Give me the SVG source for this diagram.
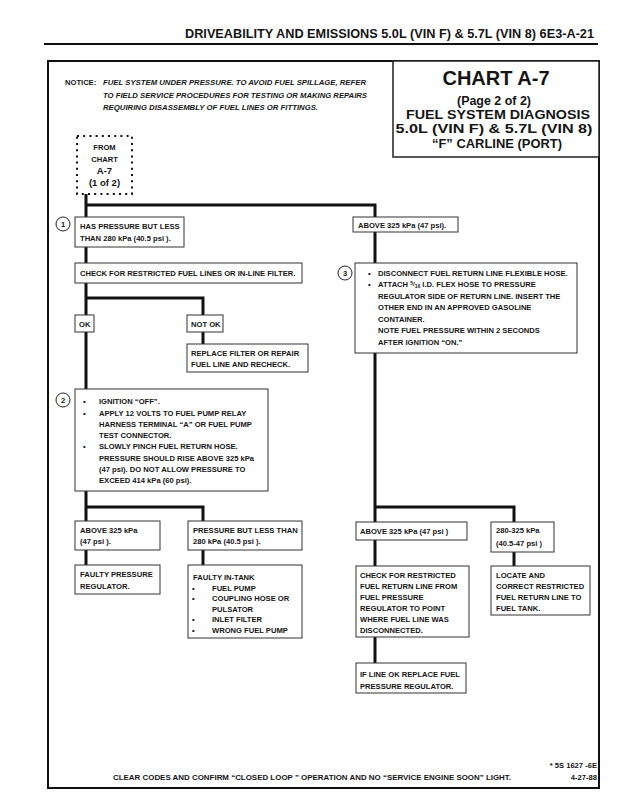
<svg xmlns="http://www.w3.org/2000/svg" width="626" height="797" viewBox="0 0 626 797" xml:space="preserve">
<style>
text{font-family:"Liberation Sans",Arial,sans-serif;font-weight:bold;fill:#151515}
.t{font-size:7.6px}
.it{font-size:7.6px;font-style:italic}
.box{fill:#fff;stroke:#333;stroke-width:1}
.con{fill:none;stroke:#111;stroke-width:3}
.circ{fill:#fff;stroke:#222;stroke-width:1}
.num{font-size:7.6px;text-anchor:middle}
.ttl{text-anchor:middle}
</style>
<rect width="626" height="797" fill="#fff"/>
<g id="header">
<text x="185" y="38" font-size="13" textLength="409" lengthAdjust="spacingAndGlyphs">DRIVEABILITY AND EMISSIONS  5.0L  (VIN F)  &amp;  5.7L  (VIN 8)  6E3-A-21</text>
<line x1="44" y1="44" x2="598" y2="44" stroke="#111" stroke-width="2"/>
</g>
<rect id="frame" x="48" y="61" width="551" height="727" fill="none" stroke="#111" stroke-width="2"/>
<g id="notice">
<text class="t" x="65" y="85">NOTICE:</text>
<text class="it" x="103" y="85" textLength="263" lengthAdjust="spacingAndGlyphs">FUEL SYSTEM UNDER PRESSURE.  TO AVOID FUEL SPILLAGE, REFER</text>
<text class="it" x="103" y="97.5" textLength="264" lengthAdjust="spacingAndGlyphs">TO FIELD SERVICE PROCEDURES FOR TESTING OR MAKING REPAIRS</text>
<text class="it" x="103" y="110" textLength="215" lengthAdjust="spacingAndGlyphs">REQUIRING DISASSEMBLY OF FUEL LINES OR FITTINGS.</text>
</g>
<g id="title">
<rect x="393" y="61" width="206" height="96" fill="#fff" stroke="#222" stroke-width="1.5"/>
<text class="ttl" x="496" y="85" font-size="20">CHART A-7</text>
<text class="ttl" x="494" y="105" font-size="12" textLength="74" lengthAdjust="spacingAndGlyphs">(Page 2 of 2)</text>
<text class="ttl" x="498" y="119" font-size="12.2" textLength="184" lengthAdjust="spacingAndGlyphs">FUEL SYSTEM DIAGNOSIS</text>
<text class="ttl" x="494" y="133" font-size="12.2" textLength="197" lengthAdjust="spacingAndGlyphs">5.0L  (VIN F)  &amp;  5.7L  (VIN 8)</text>
<text class="ttl" x="497" y="148" font-size="12.2" textLength="130" lengthAdjust="spacingAndGlyphs">“F”  CARLINE  (PORT)</text>
</g>
<g id="connectors">
<path class="con" d="M86,194 V565"/>
<path class="con" d="M86,205 H375 V663"/>
<path class="con" d="M86,298 H203 V344"/>
<path class="con" d="M86,507 H203 V565"/>
<path class="con" d="M375,507 H514 V566"/>
</g>
<g id="from-chart">
<rect x="77" y="136" width="55" height="58" fill="#fff" stroke="#111" stroke-width="2" stroke-dasharray="2,4.2"/>
<text class="ttl" x="104.5" y="150" font-size="7.6">FROM</text>
<text class="ttl" x="104.5" y="162" font-size="7.6">CHART</text>
<text class="ttl" x="104.5" y="174" font-size="9.5">A-7</text>
<text class="ttl" x="104.5" y="186" font-size="9.5">(1 of 2)</text>
</g>
<g id="step1">
<circle class="circ" cx="63" cy="224" r="7"/>
<text class="num" x="63" y="227">1</text>
<rect class="box" x="75" y="217" width="109" height="30"/>
<text class="t" x="80" y="229">HAS PRESSURE BUT LESS</text>
<text class="t" x="80" y="241">THAN 280 kPa (40.5 psi ).</text>
</g>
<g id="check-lines">
<rect class="box" x="75" y="263" width="227" height="20"/>
<text class="t" x="80" y="276">CHECK FOR RESTRICTED FUEL LINES OR IN-LINE FILTER.</text>
</g>
<g id="ok">
<rect class="box" x="75" y="315" width="19" height="17"/>
<text class="t" x="79" y="327">OK</text>
</g>
<g id="not-ok">
<rect class="box" x="187" y="315" width="36" height="17"/>
<text class="t" x="191" y="327">NOT OK</text>
</g>
<g id="replace-filter">
<rect class="box" x="187" y="344" width="121" height="28"/>
<text class="t" x="191" y="356">REPLACE FILTER  OR REPAIR</text>
<text class="t" x="191" y="367">FUEL LINE AND RECHECK.</text>
</g>
<g id="step2">
<circle class="circ" cx="63" cy="400" r="7"/>
<text class="num" x="63" y="403">2</text>
<rect class="box" x="75" y="389" width="193" height="102"/>
<text class="t" x="83" y="404">•</text><text class="t" x="99" y="404">IGNITION “OFF”.</text>
<text class="t" x="83" y="416">•</text><text class="t" x="99" y="416">APPLY 12 VOLTS TO FUEL PUMP RELAY</text>
<text class="t" x="99" y="427">HARNESS TERMINAL “A” OR FUEL PUMP</text>
<text class="t" x="99" y="438">TEST CONNECTOR.</text>
<text class="t" x="83" y="449">•</text><text class="t" x="99" y="449">SLOWLY PINCH FUEL RETURN HOSE.</text>
<text class="t" x="99" y="461">PRESSURE SHOULD RISE ABOVE 325 kPa</text>
<text class="t" x="99" y="472">(47 psi).  DO NOT ALLOW PRESSURE TO</text>
<text class="t" x="99" y="483">EXCEED 414 kPa (60 psi).</text>
</g>
<g id="left-above">
<rect class="box" x="75" y="521" width="85" height="29"/>
<text class="t" x="80" y="533">ABOVE 325 kPa</text>
<text class="t" x="80" y="544">(47 psi ).</text>
</g>
<g id="left-less">
<rect class="box" x="188" y="521" width="114" height="29"/>
<text class="t" x="193" y="533">PRESSURE BUT LESS THAN</text>
<text class="t" x="193" y="544">280 kPa (40.5 psi ).</text>
</g>
<g id="faulty-regulator">
<rect class="box" x="75" y="565" width="85" height="29"/>
<text class="t" x="80" y="577">FAULTY PRESSURE</text>
<text class="t" x="80" y="589">REGULATOR.</text>
</g>
<g id="faulty-in-tank">
<rect class="box" x="188" y="565" width="114" height="73"/>
<text class="t" x="193" y="580">FAULTY IN-TANK</text>
<text class="t" x="192" y="591">•</text><text class="t" x="212" y="591">FUEL PUMP</text>
<text class="t" x="192" y="601">•</text><text class="t" x="212" y="601">COUPLING HOSE OR</text>
<text class="t" x="212" y="612">PULSATOR</text>
<text class="t" x="192" y="622">•</text><text class="t" x="212" y="622">INLET FILTER</text>
<text class="t" x="192" y="633">•</text><text class="t" x="212" y="633">WRONG FUEL PUMP</text>
</g>
<g id="right-above-top">
<rect class="box" x="353" y="217" width="105" height="15"/>
<text class="t" x="358" y="228">ABOVE 325 kPa (47 psi).</text>
</g>
<g id="step3">
<circle class="circ" cx="345" cy="273" r="7"/>
<text class="num" x="345" y="276">3</text>
<rect class="box" x="355" y="263" width="222" height="90"/>
<text class="t" x="368" y="276">•</text><text class="t" x="378" y="276">DISCONNECT FUEL RETURN LINE FLEXIBLE HOSE.</text>
<text class="t" x="368" y="287">•</text><text class="t" x="378" y="287">ATTACH <tspan font-size="5" dy="-2">5</tspan><tspan font-size="6" dy="1">/</tspan><tspan font-size="5" dy="2">16</tspan><tspan dy="-1"> I.D. FLEX HOSE TO PRESSURE</tspan></text>
<text class="t" x="378" y="299">REGULATOR SIDE OF RETURN LINE.  INSERT THE</text>
<text class="t" x="378" y="310">OTHER END IN  AN  APPROVED GASOLINE</text>
<text class="t" x="378" y="322">CONTAINER.</text>
<text class="t" x="378" y="333">NOTE FUEL PRESSURE WITHIN 2 SECONDS</text>
<text class="t" x="378" y="345">AFTER IGNITION “ON.”</text>
</g>
<g id="right-above">
<rect class="box" x="356" y="522" width="111" height="18"/>
<text class="t" x="360" y="534">ABOVE 325 kPa (47 psi )</text>
</g>
<g id="right-range">
<rect class="box" x="491" y="522" width="63" height="30"/>
<text class="t" x="496" y="533">280-325 kPa</text>
<text class="t" x="496" y="546"> (40.5-47 psi )</text>
</g>
<g id="check-return">
<rect class="box" x="356" y="566" width="113" height="71"/>
<text class="t" x="360" y="578">CHECK FOR RESTRICTED</text>
<text class="t" x="360" y="589">FUEL RETURN LINE FROM</text>
<text class="t" x="360" y="600">FUEL PRESSURE</text>
<text class="t" x="360" y="611">REGULATOR TO POINT</text>
<text class="t" x="360" y="622">WHERE FUEL LINE WAS</text>
<text class="t" x="360" y="633">DISCONNECTED.</text>
</g>
<g id="replace-regulator">
<rect class="box" x="356" y="663" width="110" height="30"/>
<text class="t" x="360" y="677">IF LINE OK REPLACE FUEL</text>
<text class="t" x="360" y="689">PRESSURE REGULATOR.</text>
</g>
<g id="locate-correct">
<rect class="box" x="491" y="566" width="99" height="49"/>
<text class="t" x="496" y="578">LOCATE AND</text>
<text class="t" x="496" y="589">CORRECT RESTRICTED</text>
<text class="t" x="496" y="600">FUEL RETURN LINE TO</text>
<text class="t" x="496" y="611">FUEL TANK.</text>
</g>
<g id="footer">
<text class="t" x="597" y="768" text-anchor="end">* 5S 1627 -6E</text>
<text class="t" x="597" y="780" text-anchor="end">4-27-88</text>
<text class="t" x="113" y="780" textLength="398" lengthAdjust="spacingAndGlyphs">CLEAR CODES AND CONFIRM “CLOSED LOOP ” OPERATION AND NO “SERVICE ENGINE SOON” LIGHT.</text>
</g>
</svg>
